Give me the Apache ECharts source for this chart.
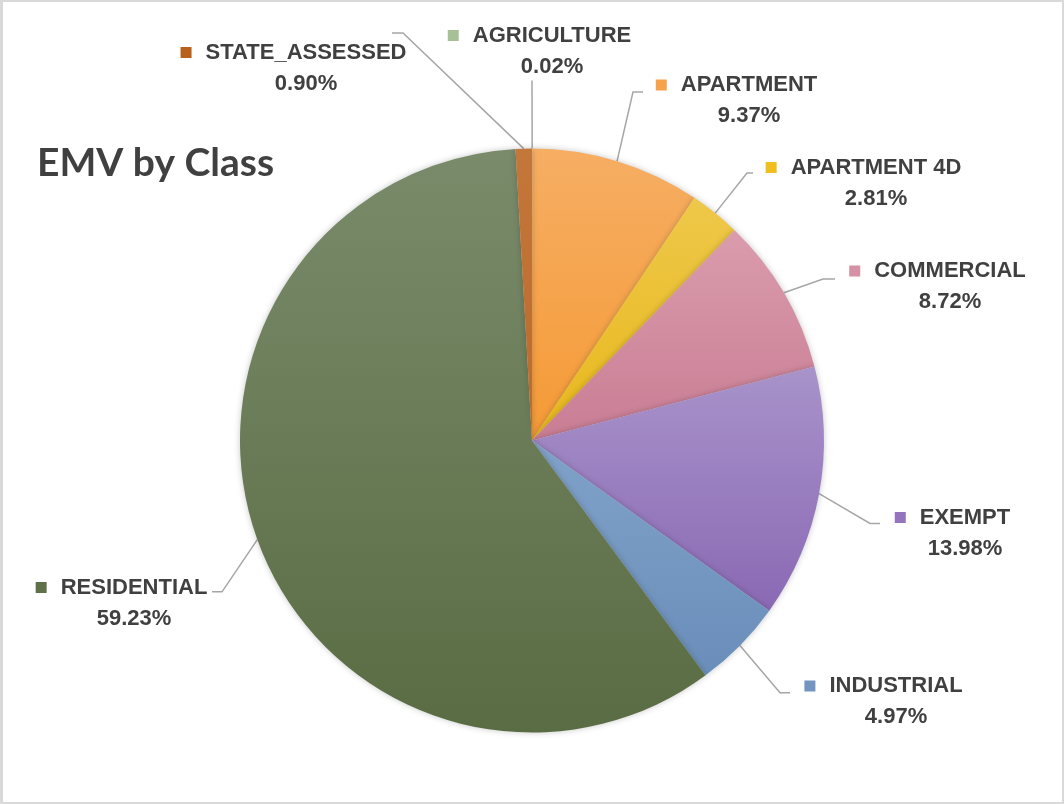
<!DOCTYPE html>
<html>
<head>
<meta charset="utf-8">
<script src="https://cdn.jsdelivr.net/npm/echarts@6/dist/echarts.min.js"></script>
<style>
  html, body { margin: 0; padding: 0; background: #ffffff; }
  #chart { position: absolute; left: 0; top: 0; width: 1064px; height: 804px; }
  #frame { position: absolute; left: 0; top: 0; width: 1064px; height: 804px; box-sizing: border-box;
           border: 2px solid #d9d9d9; border-left-width: 3px; pointer-events: none; }
</style>
</head>
<body>
<div id="chart"></div>
<div id="frame"></div>
<script>
// ---- data ----
const categories = ['AGRICULTURE', 'APARTMENT', 'APARTMENT 4D', 'COMMERCIAL', 'EXEMPT', 'INDUSTRIAL', 'RESIDENTIAL', 'STATE_ASSESSED'];
const values = [0.02, 9.37, 2.81, 8.72, 13.98, 4.97, 59.23, 0.90];
const titleText = 'EMV by Class';

// ---- styles ----
const topColors    = ['#abc59c', '#f6ae63', '#efc84a', '#da9cad', '#a893ca', '#80a2c9', '#7a8b6b', '#c4773a'];
const bottomColors = ['#a3bd92', '#f59a36', '#e7b71b', '#c97d94', '#8a69b4', '#6a8eba', '#5a6c43', '#bb6a2a'];
const keyColors    = ['#a8c096', '#f5a24b', '#efbf1f', '#d591a6', '#9474bd', '#7395c0', '#5e7148', '#b8611c'];

// label layout (centre of the name text) and leader-line bend offsets relative to it
const labelPos = [[552, 35.5], [749, 85], [876, 167.5], [950, 271], [965, 517.5], [896, 686], [134, 587.5], [306, 52.5]];
const leaderBend = [[-20, 45], [-116, 7], [-129, 5.5], [-127, 8], [-95, 6], [-116, 6.7], [88, 4.3], [97, -19.5]];
const leaderEnd  = [[-20, 45], [-106, 7], [-123, 5.5], [-115, 8], [-85, 6], [-106, 6.7], [78, 4.3], [86, -19.5]];

const SQ = 11, GAP = 14, LH = 31;

const rich = {
  name: { fontSize: 22, fontWeight: 'bold', color: '#404040', fontFamily: 'Liberation Sans', lineHeight: LH, padding: [0, 0, 0, GAP] },
  pct:  { fontSize: 22, fontWeight: 'bold', color: '#404040', fontFamily: 'Liberation Sans', lineHeight: LH, padding: [0, 0, 0, SQ + GAP] }
};
categories.forEach((c, i) => {
  rich['sq' + i] = { width: SQ, height: SQ, backgroundColor: keyColors[i] };
});

const data = categories.map((name, i) => ({
  name: name,
  value: values[i],
  itemStyle: {
    color: { type: 'linear', x: 0, y: 0, x2: 0, y2: 1,
      colorStops: [{ offset: 0, color: topColors[i] }, { offset: 1, color: bottomColors[i] }] }
  }
}));

const chart = echarts.init(document.getElementById('chart'), null, { renderer: 'canvas' });
chart.setOption({
  backgroundColor: '#ffffff',
  animation: false,
  title: {
    text: titleText,
    left: 32, top: 139,
    textStyle: { fontSize: 39, fontWeight: 'bold', fontFamily: 'Lato', color: '#404040' }
  },
  series: [{
    type: 'pie',
    center: [532, 440.5],
    radius: 292,
    startAngle: 90,
    clockwise: true,
    avoidLabelOverlap: false,
    data: data,
    itemStyle: { borderWidth: 0, shadowBlur: 6, shadowColor: 'rgba(0,0,0,0.22)' },
    label: {
      show: true,
      position: 'outside',
      formatter: p => '{sq' + p.dataIndex + '|}{name|' + p.name + '}\n{pct|' + values[p.dataIndex].toFixed(2) + '%}',
      rich: rich
    },
    labelLine: { show: true, length: 20, length2: 10, lineStyle: { color: '#a6a6a6', width: 1.5 } },
    labelLayout: function (params) {
      const i = params.dataIndex;
      const cx = labelPos[i][0], cy = labelPos[i][1];
      const p0 = params.labelLinePoints ? params.labelLinePoints[0] : [cx, cy];
      return {
        x: cx - (SQ + GAP) / 2,
        y: cy + LH / 2,
        align: 'center',
        verticalAlign: 'middle',
        labelLinePoints: [
          [p0[0], p0[1]],
          [cx + leaderBend[i][0], cy + leaderBend[i][1]],
          [cx + leaderEnd[i][0], cy + leaderEnd[i][1]]
        ]
      };
    },
    emphasis: { disabled: true }
  }]
});
</script>
</body>
</html>
